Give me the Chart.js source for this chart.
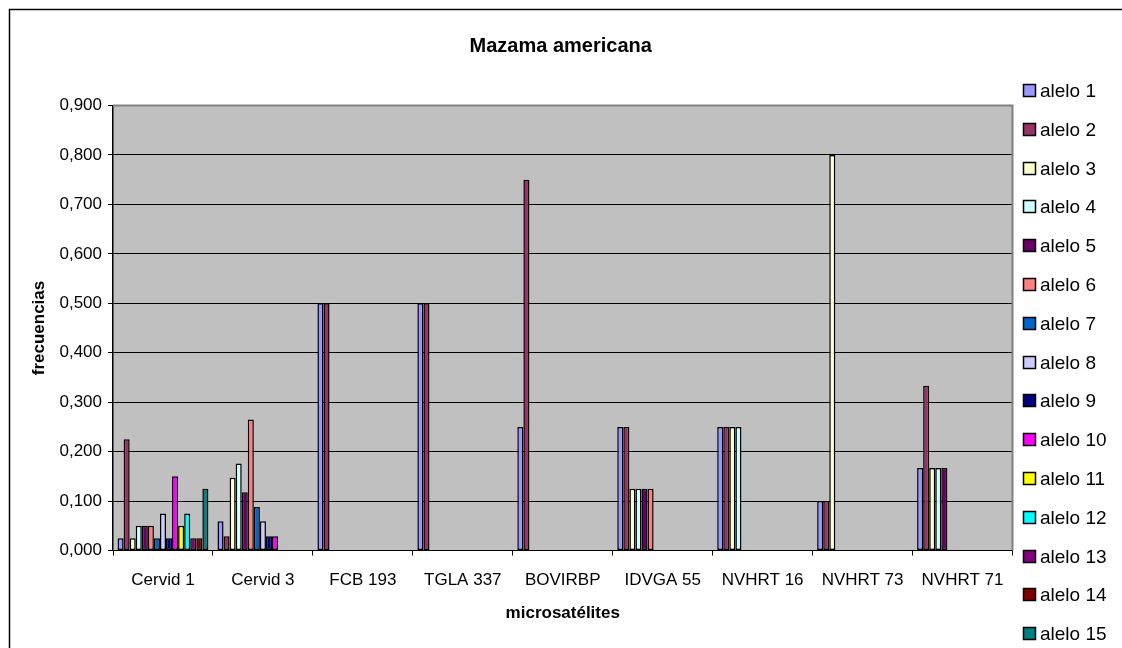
<!DOCTYPE html>
<html>
<head>
<meta charset="utf-8">
<script src="https://cdn.jsdelivr.net/npm/chart.js@4/dist/chart.umd.min.js"></script>
<style>
  html, body { margin: 0; padding: 0; background: #ffffff; }
  canvas { display: block; }
</style>
</head>
<body>
<canvas id="c" width="1122" height="648"></canvas>
<script>
// ---- data ----
const categories = ['Cervid 1', 'Cervid 3', 'FCB 193', 'TGLA 337', 'BOVIRBP', 'IDVGA 55', 'NVHRT 16', 'NVHRT 73', 'NVHRT 71'];
const seriesNames = ['alelo 1','alelo 2','alelo 3','alelo 4','alelo 5','alelo 6','alelo 7','alelo 8','alelo 9','alelo 10','alelo 11','alelo 12','alelo 13','alelo 14','alelo 15'];
const alelo1  = [0.025, 0.059, 0.5, 0.5, 0.25, 0.25, 0.25, 0.1, 0.167];
const alelo2  = [0.225, 0.029, 0.5, 0.5, 0.75, 0.25, 0.25, 0.1, 0.333];
const alelo3  = [0.025, 0.147, null, null, null, 0.125, 0.25, 0.8, 0.167];
const alelo4  = [0.05, 0.176, null, null, null, 0.125, 0.25, null, 0.167];
const alelo5  = [0.05, 0.118, null, null, null, 0.125, null, null, 0.167];
const alelo6  = [0.05, 0.265, null, null, null, 0.125, null, null, null];
const alelo7  = [0.025, 0.088, null, null, null, null, null, null, null];
const alelo8  = [0.075, 0.059, null, null, null, null, null, null, null];
const alelo9  = [0.025, 0.029, null, null, null, null, null, null, null];
const alelo10 = [0.15, 0.029, null, null, null, null, null, null, null];
const alelo11 = [0.05, null, null, null, null, null, null, null, null];
const alelo12 = [0.075, null, null, null, null, null, null, null, null];
const alelo13 = [0.025, null, null, null, null, null, null, null, null];
const alelo14 = [0.025, null, null, null, null, null, null, null, null];
const alelo15 = [0.125, null, null, null, null, null, null, null, null];
const seriesValues = [alelo1, alelo2, alelo3, alelo4, alelo5, alelo6, alelo7, alelo8, alelo9, alelo10, alelo11, alelo12, alelo13, alelo14, alelo15];
const yTickLabels = ['0,000','0,100','0,200','0,300','0,400','0,500','0,600','0,700','0,800','0,900'];
const chartTitle = 'Mazama americana';
const xTitle = 'microsatélites';
const yTitle = 'frecuencias';

// ---- styles ----
const palette = ['#9999FF','#993366','#FFFFCC','#CCFFFF','#660066','#FF8080','#0066CC','#CCCCFF','#000080','#FF00FF','#FFFF00','#00FFFF','#800080','#800000','#008080'];
const FONT = '"Liberation Sans", Arial, sans-serif';

const datasets = seriesNames.map((name, i) => ({
  label: name,
  data: seriesValues[i],
  backgroundColor: palette[i],
  borderColor: '#000000',
  borderWidth: 1.5,
  borderSkipped: false,
  categoryPercentage: 15 / 16.5,
  barPercentage: 1.0
}));

const framePlugin = {
  id: 'frame',
  beforeDraw(chart) {
    const ctx = chart.ctx;
    const a = chart.chartArea;
    ctx.save();
    ctx.fillStyle = '#ffffff';
    ctx.fillRect(0, 0, chart.width, chart.height);
    // outer chart border
    ctx.strokeStyle = '#000000';
    ctx.lineWidth = 1.5;
    ctx.beginPath();
    ctx.moveTo(9.5, chart.height + 2);
    ctx.lineTo(9.5, 9.5);
    ctx.lineTo(chart.width + 2, 9.5);
    ctx.stroke();
    // plot area
    ctx.fillStyle = '#C0C0C0';
    ctx.fillRect(a.left, a.top, a.right - a.left, a.bottom - a.top);
    ctx.restore();
  },
  beforeDatasetsDraw(chart) {
    const ctx = chart.ctx;
    const a = chart.chartArea;
    ctx.save();
    ctx.strokeStyle = '#808080';
    ctx.lineWidth = 2;
    ctx.beginPath();
    ctx.moveTo(a.left, a.top);
    ctx.lineTo(a.right, a.top);
    ctx.lineTo(a.right, a.bottom);
    ctx.stroke();
    ctx.restore();
  },
  afterDraw(chart) {
    const ctx = chart.ctx;
    const a = chart.chartArea;
    ctx.save();
    // title
    ctx.fillStyle = '#000000';
    ctx.font = 'bold 20px ' + FONT;
    ctx.textAlign = 'center';
    ctx.textBaseline = 'alphabetic';
    ctx.fillText(chartTitle, (a.left + a.right) / 2 - 2, 52);
    // legend
    ctx.font = '19px ' + FONT;
    ctx.textAlign = 'left';
    chart.data.datasets.forEach((ds, i) => {
      const cy = Math.round(90 + i * 38.8);
      ctx.fillStyle = ds.backgroundColor;
      ctx.fillRect(1023, cy - 6, 13, 13);
      ctx.strokeStyle = '#000000';
      ctx.lineWidth = 1.5;
      ctx.strokeRect(1023.5, cy - 5.5, 12, 12);
      ctx.fillStyle = '#000000';
      ctx.fillText(ds.label, 1040, cy + 7);
    });
    ctx.restore();
  }
};

new Chart(document.getElementById('c'), {
  type: 'bar',
  data: { labels: categories, datasets: datasets },
  plugins: [framePlugin],
  options: {
    responsive: false,
    animation: false,
    devicePixelRatio: 1,
    layout: { padding: { left: 0, top: 105.5, right: 109.5, bottom: 0 } },
    plugins: {
      legend: { display: false },
      title: { display: false },
      tooltip: { enabled: false }
    },
    scales: {
      x: {
        afterFit(scale) { scale.height = 97.5; },
        grid: { offset: true, drawOnChartArea: false, tickLength: 5, tickColor: '#000000', color: '#000000' },
        border: { color: '#000000', width: 1 },
        ticks: { color: '#000000', font: { family: FONT, size: 17 }, padding: 15, maxRotation: 0, autoSkip: false },
        title: { display: true, text: xTitle, color: '#000000', font: { family: FONT, size: 17, weight: 'bold' }, padding: { top: 0, bottom: 24 } }
      },
      y: {
        min: 0,
        max: 0.9,
        afterFit(scale) { scale.width = 113; },
        afterBuildTicks(scale) {
          scale.ticks = yTickLabels.map((t, i) => ({ value: i / 10 }));
        },
        grid: {
          color: (ctx) => (ctx.tick && Math.abs(ctx.tick.value - 0.9) < 1e-6) ? 'rgba(0,0,0,0)' : '#000000',
          tickColor: '#000000',
          tickLength: 5,
          lineWidth: 1
        },
        border: { color: '#000000', width: 1.5 },
        ticks: {
          color: '#000000',
          font: { family: FONT, size: 17 },
          padding: 6,
          callback: (value, index) => yTickLabels[index]
        },
        title: { display: true, text: yTitle, color: '#000000', font: { family: FONT, size: 17, weight: 'bold' }, padding: { top: 29, bottom: 0 } }
      }
    }
  }
});
</script>
</body>
</html>
